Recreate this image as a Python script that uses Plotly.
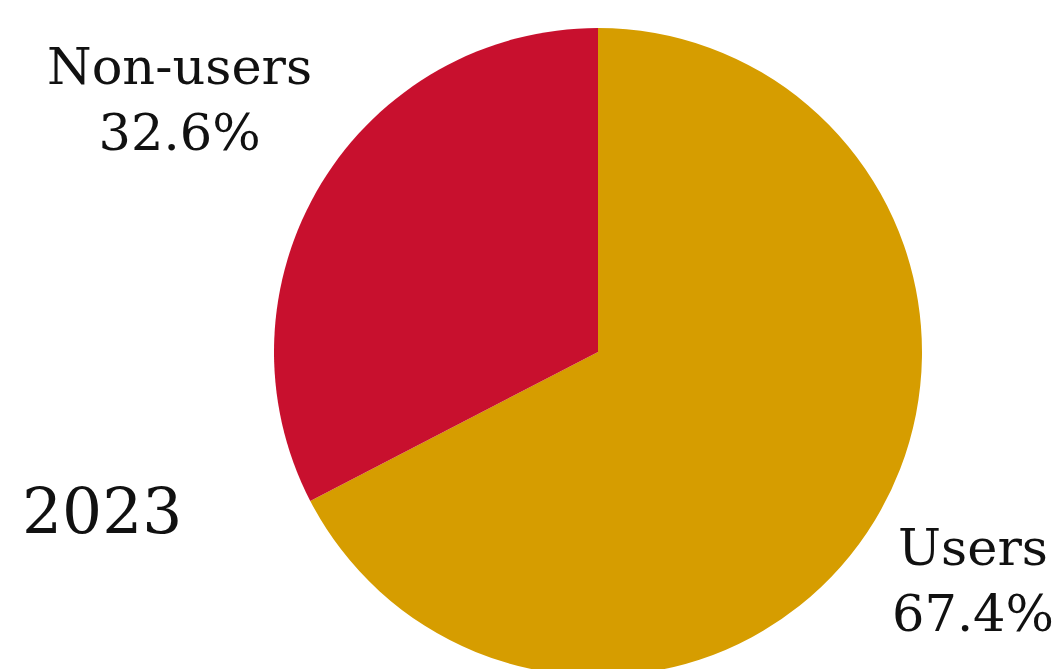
import plotly.graph_objects as go

labels = ["Users", "Non-users"]
values = [67.4, 32.6]
colors = ["#D69D00", "#C8102E"]
year = "2023"

W, H = 1054, 700
cx, cy, r = 598, 352, 324

fig = go.Figure(go.Pie(
    labels=labels, values=values, sort=False, direction="clockwise", rotation=0,
    marker=dict(colors=colors, line=dict(width=0)),
    textinfo="none", hoverinfo="label+percent", showlegend=False,
    domain=dict(x=[(cx - r) / W, (cx + r) / W], y=[1 - (cy + r) / H, 1 - (cy - r) / H]),
))

font = dict(family="DejaVu Serif, serif", size=51, color="#111111")
def ann(text, px, py, size=51):
    fig.add_annotation(text=text, x=px / W, y=1 - py / H, xref="paper", yref="paper",
                       showarrow=False, xanchor="center", yanchor="middle",
                       font=dict(font, size=size), align="center")

ann(f"{labels[1]}<br>{values[1]:.1f}%", 179, 100)
ann(f"{labels[0]}<br>{values[0]:.1f}%", 973, 580)
ann(year, 102, 512, size=63)

fig.update_layout(width=W, height=H, margin=dict(l=0, r=0, t=0, b=0),
                  paper_bgcolor="white", plot_bgcolor="white")
fig.write_html("out.html", post_script="document.documentElement.style.overflow='hidden';document.body.style.overflow='hidden';document.body.style.margin='0';")
